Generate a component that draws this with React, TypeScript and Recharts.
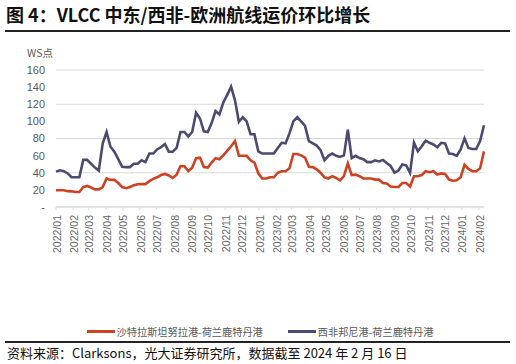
import React from "react";
import { LineChart, Line, XAxis, YAxis, CartesianGrid, Legend } from "recharts";

const startDate = "2022-01-07";
const monthLabels = [
  "2022/01","2022/02","2022/03","2022/04","2022/05","2022/06","2022/07","2022/08","2022/09","2022/10","2022/11","2022/12",
  "2023/01","2023/02","2023/03","2023/04","2023/05","2023/06","2023/07","2023/08","2023/09","2023/10","2023/11","2023/12",
  "2024/01","2024/02",
];
const yTicks = [0, 20, 40, 60, 80, 100, 120, 140, 160];

const seriesNames = ["沙特拉斯坦努拉港-荷兰鹿特丹港", "西非邦尼港-荷兰鹿特丹港"];

const saudiRotterdam = [
  19.6,19.6,19.6,18.5,18.3,17.5,17.5,23.3,24.6,22.8,
  20.6,20.6,23.3,33.3,31.7,31.7,28,23.3,22,23.3,
  25.4,26.5,26.7,26.7,30.2,32.8,34.7,37.3,38.6,36.8,
  33.9,37.6,47.9,47.6,41.8,45.8,57.1,57.7,46.6,46,
  51.9,57.1,55.8,60.3,65.6,70.9,77,59.8,59.8,59.8,
  54.5,51.9,39.4,33.3,33.3,34.7,34.7,40,
  41.8,41.8,45.2,61.9,61.9,60.3,57.7,47,46.6,43.9,
  40,34.7,33.3,36,33.9,31.2,36,51,37.3,37.8,
  36,33.3,33.3,33.3,32,32,28,27.5,24,23.3,
  23.3,28,28,24,36,36,37.3,41.8,40.7,41.8,
  38,39.2,38.6,32,30.7,31.2,34.7,49.2,44.4,41.8,
  41.8,45.2,65,
];

const bonnyRotterdam = [
  41.3,42.9,41.8,39.2,34.7,34.7,34.7,55,55,50.5,
  46,42.6,74,87.6,70.4,64.6,55.8,47,46.6,46.6,
  50.5,50.5,54.5,52.4,62.4,62.4,67.2,69.8,73.5,64.6,
  64.6,69,87.6,87.6,82.3,87.6,110,103.4,88.4,87.6,
  98,112,108,122,131,140.5,124.6,99.5,104.8,100,
  85,85,65,62.4,62.4,62.4,62.4,69,
  75,74.3,86,100,104.8,100,94.7,77,74.3,71.7,
  66.4,54.5,59.8,62.4,59.8,58.5,60.3,90.2,57.1,59.8,
  57.1,55.8,52.4,52.4,54.5,53.2,55,51.3,47.9,40,
  42.6,49.7,48.7,40,75,65,70.9,77.5,75,73,
  69.8,75,74.3,62.4,61.9,59.8,67.2,80.2,69,67.7,
  67.7,77,95.5,
];

const colors = ["#CC4223", "#4B4B72"];

const DAY = 86400000;
const toDay = (s: string) => {
  const [y, m, d] = s.split(/[-/]/).map(Number);
  return Date.UTC(y, m - 1, d || 1) / DAY;
};
const t0 = toDay(startDate);
const data = saudiRotterdam.map((v, i) => ({
  t: t0 + i * 7,
  a: v,
  b: bonnyRotterdam[i],
}));
const tEnd = data[data.length - 1].t;
const monthTicks = monthLabels.map((l) => toDay(l + "/07"));
const labelFor = (t: number) => {
  const idx = monthTicks.indexOf(t);
  return idx >= 0 ? monthLabels[idx] : "";
};

const XTick = (props: any) => {
  const { x, y, payload } = props;
  return (
    <g transform={`translate(${x + 1},${y})`}>
      <text transform="rotate(-90)" textAnchor="end" dy="0.35em" x={-3} fill="#666" fontSize={10.5} fontFamily="'Liberation Sans', Arial, sans-serif">
        {labelFor(payload.value)}
      </text>
    </g>
  );
};

const LegendContent = () => (
  <div style={{ display: "flex", justifyContent: "center", fontSize: 10.2, color: "#595959", fontFamily: "'Noto Sans CJK SC', sans-serif" }}>
    {seriesNames.map((n, i) => (
      <div key={n} style={{ display: "flex", alignItems: "center", marginRight: i === 0 ? 25 : 0, marginLeft: i === 0 ? 4 : 0 }}>
        <span style={{ display: "inline-block", width: 28, height: 3, background: colors[i], marginRight: 2 }} />
        <span>{n}</span>
      </div>
    ))}
  </div>
);

export default function App() {
  return (
    <div style={{ position: "absolute", left: 0, top: 0, width: 516, height: 364, background: "#fff", fontFamily: "'Noto Sans CJK SC', sans-serif" }}>
      <div style={{ position: "absolute", left: 6, top: 2, fontSize: 18, fontWeight: 700, color: "#111", whiteSpace: "nowrap", lineHeight: "24px" }}>
        图 4：VLCC 中东/西非-欧洲航线运价环比增长
      </div>
      <div style={{ position: "absolute", left: 5, top: 30, width: 505, height: 1.5, background: "#222" }} />
      <div style={{ position: "absolute", left: 27, top: 46, fontSize: 10.5, color: "#595959", lineHeight: "14px" }}>WS点</div>
      <div style={{ position: "absolute", left: 0, top: 0 }}>
        <LineChart width={516} height={364} data={data} margin={{ top: 70, right: 32, left: 0, bottom: 92 }}>
          <CartesianGrid vertical={false} stroke="#D9D9D9" strokeWidth={1} />
          <XAxis
            dataKey="t"
            type="number"
            domain={[t0, tEnd]}
            ticks={monthTicks}
            interval={0}
            tick={<XTick />}
            tickSize={3}
            axisLine={{ stroke: "#D9D9D9" }}
            tickLine={{ stroke: "#D9D9D9" }}
            height={50}
          />
          <YAxis
            domain={[0, 160]}
            ticks={yTicks}
            width={56}
            axisLine={false}
            tickLine={false}
            tickSize={0}
            tickMargin={11}
            tickFormatter={(v: number) => (v === 0 ? "-" : String(v))}
            tick={{ fill: "#595959", fontSize: 11, fontFamily: "'Liberation Sans', Arial, sans-serif" }}
          />
          <Legend content={<LegendContent />} wrapperStyle={{ position: "absolute", top: 324, left: 0, width: 516 }} />
          <Line type="linear" dataKey="a" name={seriesNames[0]} stroke={colors[0]} strokeWidth={2.6} dot={false} isAnimationActive={false} />
          <Line type="linear" dataKey="b" name={seriesNames[1]} stroke={colors[1]} strokeWidth={2.6} dot={false} isAnimationActive={false} />
        </LineChart>
      </div>
      <div style={{ position: "absolute", left: 5, top: 341, width: 505, height: 1.5, background: "#222" }} />
      <div style={{ position: "absolute", left: 7, top: 344, fontSize: 13, color: "#111", whiteSpace: "nowrap", lineHeight: "18px" }}>
        资料来源：Clarksons，光大证券研究所，数据截至 2024 年 2 月 16 日
      </div>
    </div>
  );
}
